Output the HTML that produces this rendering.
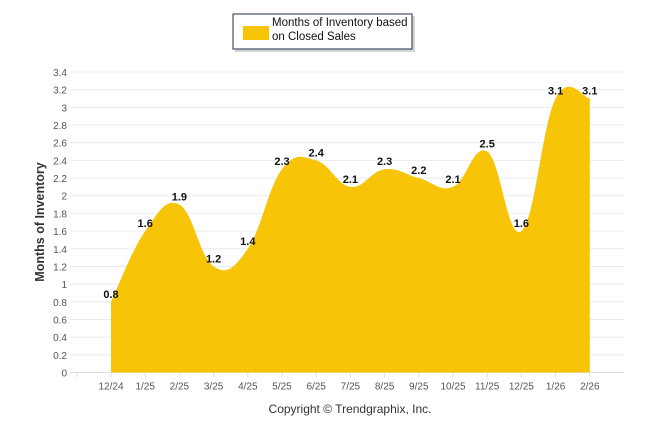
<!DOCTYPE html>
<html><head><meta charset="utf-8"><style>
body{margin:0;background:#fff;width:646px;height:434px;overflow:hidden;font-family:"Liberation Sans",sans-serif}
</style></head><body>
<svg id="c" width="646" height="434" xmlns="http://www.w3.org/2000/svg">
<g>
<rect x="235" y="16" width="180" height="36" fill="#bbb" opacity="0.6"/>
<rect x="233" y="14" width="179" height="35" fill="#fff" stroke="#1f2d4d" stroke-width="1"/>
<rect x="243" y="26" width="26" height="14" fill="#F8C408"/>
<text x="272" y="26" font-size="11.5" fill="#111">Months of Inventory based</text>
<text x="272" y="40" font-size="11.5" fill="#111">on Closed Sales</text>
</g>
<g id="grid"></g>
<g id="area"></g>
<g id="labels"></g>
<text x="44" y="222" transform="rotate(-90 44 222)" text-anchor="middle" font-size="12.5" font-weight="bold" fill="#333">Months of Inventory</text>
<text x="350" y="413" text-anchor="middle" font-size="12" fill="#333">Copyright © Trendgraphix, Inc.</text>
</svg>
<script>
const categories=["12/24","1/25","2/25","3/25","4/25","5/25","6/25","7/25","8/25","9/25","10/25","11/25","12/25","1/26","2/26"];
const values=[0.8,1.6,1.9,1.2,1.4,2.3,2.4,2.1,2.3,2.2,2.1,2.5,1.6,3.1,3.1];
const yTicks=[0,0.2,0.4,0.6,0.8,1,1.2,1.4,1.6,1.8,2,2.2,2.4,2.6,2.8,3,3.2,3.4];
const NS="http://www.w3.org/2000/svg";
const x0=111,dx=34.2,yb=372.5,yt=72,ymax=3.4;
const X=i=>x0+dx*i, Y=v=>yb-(yb-yt)*v/ymax;
function mk(t,a,p){const e=document.createElementNS(NS,t);for(const k in a)e.setAttribute(k,a[k]);p.appendChild(e);return e;}
const g=document.getElementById('grid');
yTicks.forEach(v=>{
 const l=mk('line',{x1:70,x2:624,y1:Y(v),y2:Y(v),stroke:v===0?'#ddd':'#ebebeb','stroke-width':1},g);
 
 
 const t=mk('text',{x:67,y:Y(v)+4,'text-anchor':'end','font-size':10,fill:'#555'},g);t.textContent=String(v);
 
 
});
for(let i=-1;i<categories.length;i++){mk('line',{x1:X(i),x2:X(i),y1:yb,y2:yb+5,stroke:'#ddd'},g);}
categories.forEach((c,i)=>{
 const t=mk('text',{x:X(i),y:yb+17,'text-anchor':'middle','font-size':10,fill:'#555'},g);t.textContent=c;
 
 
});
const pts=values.map((v,i)=>[X(i),Y(v)]);
let d=`M${pts[0][0]},${yb}L${pts[0][0]},${pts[0][1]}`;
for(let i=0;i<pts.length-1;i++){
 const p0=pts[Math.max(0,i-1)],p1=pts[i],p2=pts[i+1],p3=pts[Math.min(pts.length-1,i+2)];
 const k=1/5;
 d+=`C${p1[0]+(p2[0]-p0[0])*k},${p1[1]+(p2[1]-p0[1])*k} ${p2[0]-(p3[0]-p1[0])*k},${p2[1]-(p3[1]-p1[1])*k} ${p2[0]},${p2[1]}`;
}
d+=`L${pts[pts.length-1][0]},${yb}Z`;
const a=mk('path',{d:d,fill:'#F8C408'},document.getElementById('area'));


const lg=document.getElementById('labels');
values.forEach((v,i)=>{
 const t=mk('text',{x:X(i),y:Y(v)-4,'text-anchor':'middle','font-size':11,'font-weight':'bold',fill:'#111'},lg);
 t.textContent=v.toFixed(1);
 
 
});
</script>
</body></html>
